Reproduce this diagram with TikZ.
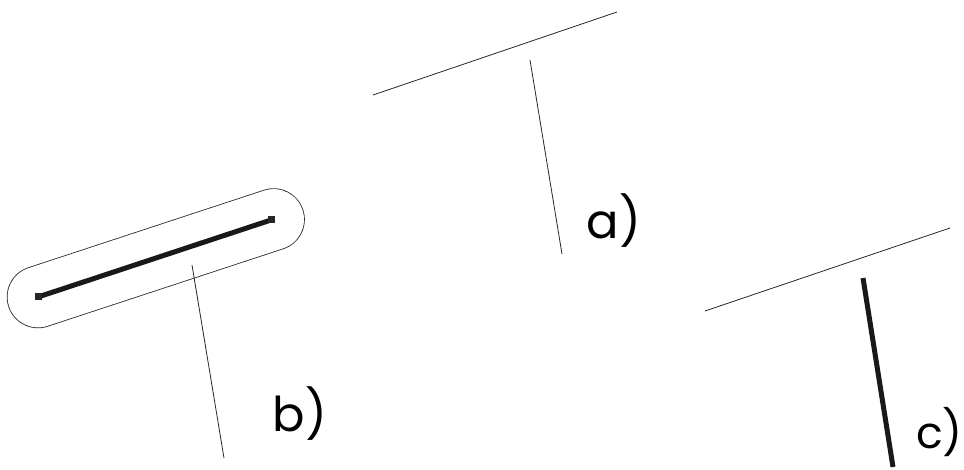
\documentclass[tikz,border=0pt]{standalone}
\usepackage{fontspec}
\setmainfont{Poppins}
\begin{document}
\begin{tikzpicture}[x=1pt,y=-1pt,
  thinline/.style={line width=0.8pt,black!85},
  thickline/.style={line width=5pt,black!90},
  lbl/.style={font=\fontsize{48}{48}\selectfont,inner sep=0pt,anchor=center}]
\useasboundingbox (0,0) rectangle (964,470);
% a)
\coordinate (a1) at (373,95);
\coordinate (a2) at (617,12);
\coordinate (a3) at (530,60);
\coordinate (a4) at (562,254);
\draw[thinline] (a1) -- (a2);
\draw[thinline] (a3) -- (a4);
\node[lbl] (la) at (614,221) {a)};
% b) capsule
\coordinate (bl) at (38,297);
\coordinate (br) at (273.6,219.5);
\draw[line width=62.4pt,line cap=round,black!85] (bl) -- (br);
\draw[line width=60.8pt,line cap=round,white] (bl) -- (br);
\coordinate (b1) at (38,297);
\coordinate (b2) at (271,220);
\draw[thickline] (b1) -- (b2);
\fill[black!85] (b1) ++(-3.5,-3.5) rectangle ++(7,7);
\fill[black!85] (b2) ++(-3.5,-3.5) rectangle ++(7,7);
\coordinate (b3) at (192,265);
\coordinate (b4) at (224,458);
\draw[thinline] (b3) -- (b4);
\node[lbl] (lb) at (300,414) {b)};
% c)
\coordinate (c1) at (705,311);
\coordinate (c2) at (950,228);
\coordinate (c3) at (863,278);
\coordinate (c4) at (893,467);
\draw[thinline] (c1) -- (c2);
\draw[thickline] (c3) -- (c4);
\node[lbl,font=\fontsize{44}{44}\selectfont,anchor=east] (lc) at (963,432) {c)};
\end{tikzpicture}
\end{document}
